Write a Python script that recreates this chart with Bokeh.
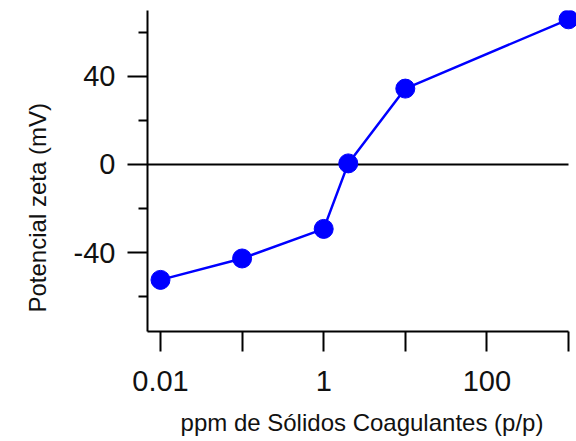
from bokeh.plotting import figure
from bokeh.models import Title, FixedTicker, CustomJSTickFormatter, Range1d
from bokeh.embed import file_html
from bokeh.resources import INLINE

# data
conc = [0.01, 0.1, 1, 2, 10, 1000]
zeta = [-52.3, -42.6, -29.2, 0.5, 34.4, 65.8]

x_major = [0.01, 1, 100]
x_minor = [0.1, 10, 1000]
y_major = [-40, 0, 40]
y_minor = [-60, -20, 20, 60]

x_title = "ppm de Sólidos Coagulantes (p/p)"
y_title = "Potencial zeta (mV)"

FONT = "Liberation Sans"
X_START, X_END = 0.00693, 1253.0

p = figure(width=576, height=441, x_axis_type="log",
           x_range=Range1d(X_START, X_END), y_range=Range1d(-75.7, 69.8),
           output_backend="svg", toolbar_location=None,
           min_border_left=147, min_border_right=0,
           min_border_top=10, min_border_bottom=110)
p.outline_line_color = None
p.grid.visible = False
p.background_fill_color = "white"
p.border_fill_color = "white"

# zero reference line, from the left edge to the last concentration
p.segment(x0=[X_START], y0=[0], x1=[max(conc)], y1=[0], line_color="black", line_width=2)

p.line(conc, zeta, line_color="#0000ff", line_width=2.5)
p.scatter(conc, zeta, size=19, fill_color="#0000ff", line_color="#0000ff")

xa = p.xaxis[0]
xa.ticker = FixedTicker(ticks=x_major, minor_ticks=x_minor)
xa.formatter = CustomJSTickFormatter(code="return tick.toString();")
xa.bounds = (X_START, max(conc))
xa.major_tick_out = 20
xa.minor_tick_out = 20
xa.major_tick_in = 0
xa.minor_tick_in = 0
xa.major_label_standoff = 19
xa.axis_label = x_title
xa.axis_label_standoff = 15
xa.axis_label_text_font = FONT
xa.axis_label_text_font_size = "24px"
xa.axis_label_text_font_style = "normal"
xa.axis_label_text_color = "#111111"

ya = p.yaxis[0]
ya.ticker = FixedTicker(ticks=y_major, minor_ticks=y_minor)
ya.formatter = CustomJSTickFormatter(code="return tick.toString();")
ya.major_tick_out = 20
ya.minor_tick_out = 9
ya.major_tick_in = 0
ya.minor_tick_in = 0
ya.major_label_standoff = 12

for ax in (xa, ya):
    ax.axis_line_width = 2
    ax.axis_line_color = "black"
    ax.major_tick_line_width = 2
    ax.minor_tick_line_width = 2
    ax.major_tick_line_color = "black"
    ax.minor_tick_line_color = "black"
    ax.major_label_text_font = FONT
    ax.major_label_text_font_size = "29px"
    ax.major_label_text_color = "#111111"

p.add_layout(Title(text=y_title, align="left", offset=19, standoff=40,
                   text_font=FONT, text_font_size="24px",
                   text_font_style="normal", text_color="#111111"), "left")

open("out.html", "w").write(file_html(p, INLINE))
